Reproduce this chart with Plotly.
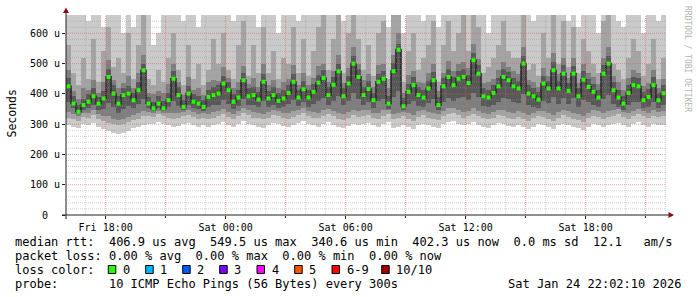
import plotly.graph_objects as go
import pandas as pd

# ---------------- data (values in microseconds) ----------------
START = "2026-01-23 16:01:00"
END = "2026-01-24 22:01:00"
STEP_MIN = 15

median_us = [425,368,341,363,374,392,368,385,456,401,368,396,401,379,412,478,368,352,368,352,379,450,396,357,401,374,368,357,390,396,
             401,434,412,374,388,445,392,396,381,440,385,396,377,385,403,440,388,415,388,407,437,452,396,430,474,392,434,500,456,396,
             416,379,440,450,368,475,546,359,407,429,396,388,418,445,363,425,456,429,450,456,436,511,467,392,388,403,425,456,445,425,
             418,500,401,392,381,434,418,478,418,467,410,467,392,447,423,407,388,467,500,412,388,368,403,429,425,379,390,429,379,402]

lo1_us = [298,292,288,300,296,304,290,284,278,272,268,270,278,286,292,298,302,300,306,302,296,290,294,300,304,298,292,296,290,296,
          300,306,296,290,300,310,302,296,292,288,296,304,300,294,290,298,304,310,300,296,292,300,306,298,290,286,294,302,296,300,
          304,296,290,300,306,286,292,298,290,284,296,302,296,290,286,300,306,310,302,296,300,306,298,292,288,296,304,300,294,290,
          296,290,284,292,300,296,290,284,296,302,296,290,286,280,292,300,296,290,296,300,304,296,290,300,306,298,292,300,296,298]

lo2_us = [322,318,312,325,320,330,316,310,305,300,296,300,306,314,318,326,328,324,332,326,322,318,320,326,330,324,318,322,316,322,
          328,334,324,318,326,336,330,322,320,316,322,330,326,320,318,324,330,336,326,322,320,328,334,326,318,314,322,330,324,328,
          330,322,318,328,332,316,320,326,318,312,324,330,322,318,314,326,334,338,330,322,326,334,326,320,316,322,330,328,322,318,
          324,318,312,320,326,324,318,312,322,330,324,318,314,308,320,328,324,318,324,328,332,324,318,326,332,326,320,328,324,326]

lo3_us = [340,334,326,338,336,346,332,328,326,318,314,318,324,330,336,344,340,336,344,338,338,336,338,340,346,340,334,336,332,340,
          344,350,340,334,342,352,346,340,336,334,340,346,342,336,336,342,346,352,342,340,338,346,350,344,336,332,340,348,342,346,
          348,338,336,346,346,334,338,340,336,330,342,346,340,336,332,344,352,354,348,340,344,352,344,338,334,340,348,346,340,336,
          342,336,330,338,342,342,336,330,340,348,342,336,332,326,338,346,342,336,342,346,350,340,336,344,350,344,338,346,340,344]

lo4_us = [372,352,333,348,352,362,346,350,370,358,338,350,360,352,366,384,352,342,354,344,356,378,360,346,364,354,350,344,358,364,
          362,380,368,350,360,382,362,364,356,378,358,364,354,356,366,380,360,372,358,368,378,386,364,376,392,362,376,404,384,364,
          372,354,378,384,350,390,410,346,366,376,360,358,370,382,348,374,388,376,386,390,380,404,390,360,356,364,374,388,382,372,
          370,398,362,358,352,378,370,390,368,386,366,386,358,380,372,364,356,384,396,368,358,348,362,374,372,352,356,374,352,364]

hi4_us = [452,392,362,384,398,418,390,410,482,428,392,420,426,404,440,500,390,374,392,376,404,474,422,380,426,398,392,380,414,424,
          428,460,438,398,414,470,418,424,406,466,410,422,402,412,430,466,414,442,414,434,462,478,422,456,498,418,460,524,482,422,
          444,404,466,476,394,502,566,386,434,456,422,414,444,472,390,452,482,456,476,482,462,536,494,418,414,430,452,482,472,452,
          444,526,428,418,406,460,444,504,444,494,436,492,418,474,450,434,414,494,526,438,414,394,430,456,452,406,416,456,404,428]

hi3_us = [478,410,384,420,414,446,404,440,512,446,418,436,460,418,470,530,404,398,410,402,432,500,440,396,456,414,420,396,440,446,
          444,490,452,420,440,492,434,452,422,500,428,446,418,440,450,494,430,470,430,452,492,500,440,476,530,436,486,556,500,446,
          466,424,494,500,418,530,600,404,462,476,440,436,470,500,408,470,510,474,500,504,486,566,516,436,440,448,478,506,490,474,
          466,556,446,440,424,486,460,536,466,520,452,520,436,498,470,456,432,520,556,460,440,412,452,478,470,426,436,480,420,450]

hi2_us = [560,470,430,520,450,580,440,540,620,490,520,470,600,450,560,660,450,430,480,440,520,600,480,430,560,450,500,430,480,580,
          500,600,480,450,560,640,460,560,470,620,470,540,450,520,500,620,470,580,460,540,620,660,480,580,680,470,600,680,580,480,
          560,460,600,640,450,680,680,440,540,600,480,520,560,640,440,560,640,540,600,660,540,680,620,470,490,520,560,640,540,520,
          520,680,480,500,460,600,520,660,500,640,490,620,470,580,540,500,470,640,680,500,480,450,520,580,540,460,500,580,450,520]

hi1_us = [680,680,680,680,640,680,680,620,680,680,680,600,680,620,680,680,680,560,600,680,680,680,680,640,680,680,620,680,680,680,
          680,680,680,640,680,680,680,680,620,680,680,680,600,680,680,680,640,680,680,680,680,680,680,680,680,640,680,680,680,680,
          680,680,680,680,620,680,680,600,680,680,680,640,680,680,620,680,680,680,680,680,680,680,680,660,600,680,680,680,680,680,
          680,680,680,640,680,680,680,680,680,680,640,680,620,680,680,680,600,680,680,680,640,620,680,680,680,600,680,680,640,680]

x_tick_times = ["2026-01-23 18:00", "2026-01-24 00:00", "2026-01-24 06:00", "2026-01-24 12:00", "2026-01-24 18:00"]
x_tick_labels = ["Fri 18:00", "Sat 00:00", "Sat 06:00", "Sat 12:00", "Sat 18:00"]
y_tick_us = [0, 100, 200, 300, 400, 500, 600]
y_tick_labels = ["0  ", "100 u", "200 u", "300 u", "400 u", "500 u", "600 u"]

loss_labels = ["0", "1", "2", "3", "4", "5", "6-9", "10/10"]
loss_colors = ["#26ff00", "#00b8ff", "#0059ff", "#7e00ff", "#ff00ff", "#ff5500", "#ff0000", "#a00000"]

legend_lines = [
    "median rtt:  406.9 us avg  549.5 us max  340.6 us min  402.3 us now  0.0 ms sd  12.1   am/s",
    "packet loss: 0.00 % avg  0.00 % max  0.00 % min  0.00 % now",
    "loss color:",
    "probe:       10 ICMP Echo Pings (56 Bytes) every 300s",
]
stamp = "Sat Jan 24 22:02:10 2026"
watermark = "RRDTOOL / TOBI OETIKER"

# ---------------- geometry helpers (pixels -> paper) ----------------
W, H = 697, 297
L, R, T, B = 66, 31, 15, 82
PW, PH = W - L - R, H - T - B
def px(x):
    return (x - L) / PW
def py(y):
    return (H - B - y) / PH

MONO = "DejaVu Sans Mono"
U = 1e-6
times = pd.date_range(START, periods=len(median_us), freq=f"{STEP_MIN}min")
centers = times + pd.Timedelta(minutes=STEP_MIN / 2)
width_ms = STEP_MIN * 60 * 1000

fig = go.Figure()
bands = [(lo1_us, hi1_us, "#cacaca"), (lo2_us, hi2_us, "#a4a4a4"),
         (lo3_us, hi3_us, "#7e7e7e"), (lo4_us, hi4_us, "#585858")]
for lo, hi, col in bands:
    fig.add_trace(go.Bar(
        x=times, y=[(h - l) * U for l, h in zip(lo, hi)], base=[l * U for l in lo],
        width=width_ms, offset=0, marker=dict(color=col, line=dict(width=0)),
        hoverinfo="skip"))
fig.add_trace(go.Scatter(x=centers, y=[m * U for m in median_us], mode="lines",
                         line=dict(color="#2a2a2a", width=1.6, shape="hvh"), hoverinfo="skip"))
fig.add_trace(go.Scatter(x=centers, y=[m * U for m in median_us], mode="markers",
                         marker=dict(symbol="square", size=4, color="#26ff00", line=dict(width=0))))

shapes = []
# horizontal grid
for v in range(20, 660, 20):
    major = v % 100 == 0
    shapes.append(dict(type="line", xref="paper", yref="y", x0=0, x1=1, y0=v * U, y1=v * U,
                       line=dict(color="rgba(230,90,90,0.55)" if major else "rgba(150,150,150,0.45)",
                                 width=1, dash="1px,1px"), layer="above"))
# vertical grid
for t in pd.date_range("2026-01-23 17:00", "2026-01-24 22:00", freq="1h"):
    major = t.hour % 3 == 0
    shapes.append(dict(type="line", xref="x", yref="paper", x0=t, x1=t, y0=0, y1=1,
                       line=dict(color="rgba(230,90,90,0.55)" if major else "rgba(150,150,150,0.45)",
                                 width=1, dash="1px,1px"), layer="above"))
# axes
shapes.append(dict(type="line", xref="paper", yref="paper", x0=px(66), x1=px(66), y0=py(219), y1=py(12),
                   line=dict(color="#202020", width=1), layer="above"))
shapes.append(dict(type="line", xref="paper", yref="paper", x0=px(62), x1=px(669), y0=py(215), y1=py(215),
                   line=dict(color="#202020", width=1), layer="above"))
arrow_col = "#8a1010"
shapes.append(dict(type="path", xref="paper", yref="paper",
                   path=f"M {px(66)},{py(7.5)} L {px(63)},{py(13)} L {px(69)},{py(13)} Z",
                   fillcolor=arrow_col, line=dict(width=0), layer="above"))
shapes.append(dict(type="path", xref="paper", yref="paper",
                   path=f"M {px(674)},{py(215)} L {px(668.5)},{py(212)} L {px(668.5)},{py(218)} Z",
                   fillcolor=arrow_col, line=dict(width=0), layer="above"))
# loss colour boxes
box_left = [108.3, 145.7, 182.7, 219.7, 257.0, 294.7, 332.0, 381.7]
for bx, col in zip(box_left, loss_colors):
    shapes.append(dict(type="rect", xref="paper", yref="paper", x0=px(bx), x1=px(bx + 7.5),
                       y0=py(273.5), y1=py(265.5), fillcolor=col, line=dict(color="#000", width=1)))

def nb(s):
    return s.replace(" ", "\u00a0")

ann = []
line_y = [241.5, 255.5, 269.5, 283.5]
for txt, yy in zip(legend_lines, line_y):
    ann.append(dict(text=nb(txt), xref="paper", yref="paper", x=px(12.5), y=py(yy),
                    xanchor="left", yanchor="middle", showarrow=False,
                    font=dict(family=MONO, size=12, color="#000")))
for bx, lab in zip(box_left, loss_labels):
    ann.append(dict(text=lab, xref="paper", yref="paper", x=px(bx + 12.5), y=py(269.5),
                    xanchor="left", yanchor="middle", showarrow=False,
                    font=dict(family=MONO, size=12, color="#000")))
ann.append(dict(text=nb(stamp), xref="paper", yref="paper", x=px(683), y=py(283.5),
                xanchor="right", yanchor="middle", showarrow=False,
                font=dict(family=MONO, size=12, color="#000")))
ann.append(dict(text="Seconds", xref="paper", yref="paper", x=px(11), y=py(113.5),
                xanchor="center", yanchor="middle", textangle=-90, showarrow=False,
                font=dict(family=MONO, size=11.5, color="#000")))
ann.append(dict(text=nb(watermark), xref="paper", yref="paper", x=px(687), y=py(59),
                xanchor="center", yanchor="middle", textangle=90, showarrow=False,
                font=dict(family=MONO, size=8, color="#b4b4b4")))

fig.update_layout(
    width=W, height=H, margin=dict(l=L, r=R, t=T, b=B, pad=0),
    paper_bgcolor="white", plot_bgcolor="white", barmode="overlay", bargap=0,
    showlegend=False, shapes=shapes, annotations=ann,
    font=dict(family=MONO, size=10, color="#000"),
    xaxis=dict(type="date", range=[START, END], tickvals=x_tick_times, ticktext=x_tick_labels,
               showgrid=False, zeroline=False, showline=False, ticks="outside", ticklen=3,
               tickcolor="#202020", tickfont=dict(family=MONO, size=10, color="#000"),
               minor=dict(dtick=3 * 3600 * 1000, tick0="2026-01-23 18:00", ticks="outside",
                          ticklen=2, tickcolor="#202020", showgrid=False)),
    yaxis=dict(range=[0, 660.5 * U], tickvals=[v * U for v in y_tick_us],
               ticktext=[nb(t) for t in y_tick_labels], showgrid=False, zeroline=False,
               showline=False, ticks="outside", ticklen=3, tickcolor="#202020",
               tickfont=dict(family=MONO, size=10, color="#000")),
)

fig.write_html("out.html")
